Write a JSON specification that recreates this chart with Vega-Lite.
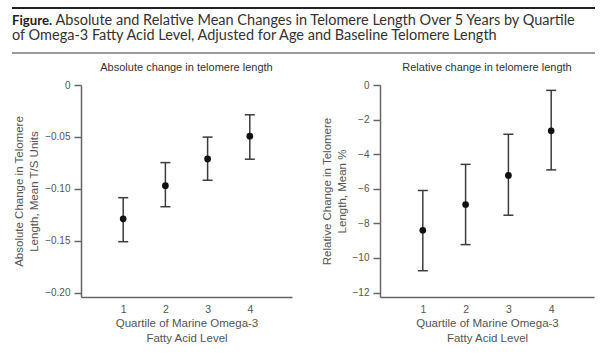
{
  "$schema": "https://vega.github.io/schema/vega-lite/v6.json",
  "background": "white",
  "padding": {"left": 11, "top": 7, "right": 5, "bottom": 5},
  "config": {"view": {"stroke": null}, "font": "Liberation Sans", "axis": {"labelOverlap": false, "labelBound": false}},
  "spacing": 8,
  "vconcat": [
    {
      "width": 583,
      "height": 45,
      "data": {"values": [{}]},
      "title": {
        "text": "Figure.",
        "subtitle": ["\u200b\u2003\u2003\u2003\u2003Absolute and Relative Mean Changes in Telomere Length Over 5 Years by Quartile", "of Omega-3 Fatty Acid Level, Adjusted for Age and Baseline Telomere Length"],
        "anchor": "start",
        "frame": "group",
        "font": "Lato",
        "fontSize": 13.2,
        "fontWeight": "bold",
        "color": "#222222",
        "subtitleFont": "Lato",
        "subtitleFontSize": 14.5,
        "subtitleColor": "#333333",
        "subtitleLineHeight": 14.5,
        "subtitlePadding": -14,
        "offset": -37
      },
      "layer": [
        {
          "mark": {"type": "rule", "color": "#222222", "strokeWidth": 2},
          "encoding": {"y": {"datum": 1, "type": "quantitative", "scale": {"domain": [0, 1]}, "axis": null}}
        },
        {
          "mark": {"type": "rule", "color": "#7a7a7a", "strokeWidth": 1.5},
          "encoding": {"y": {"datum": 0, "type": "quantitative", "axis": null}}
        }
      ]
    },
    {
      "spacing": 0,
      "hconcat": [
        {
          "width": 1,
          "height": 1,
          "data": {"values": []},
          "mark": "point"
        },
        {
          "spacing": 29,
          "hconcat": [
            {
              "width": 211,
              "height": 212,
              "title": {"text": "Absolute change in telomere length", "fontSize": 11, "fontWeight": "normal", "color": "#333333", "offset": 7, "anchor": "middle"},
              "data": {"values": [
                {"quartile": 1, "mean": -0.129, "lower": -0.151, "upper": -0.1086},
                {"quartile": 2, "mean": -0.097, "lower": -0.1173, "upper": -0.0748},
                {"quartile": 3, "mean": -0.0712, "lower": -0.0918, "upper": -0.0502},
                {"quartile": 4, "mean": -0.0493, "lower": -0.0715, "upper": -0.0287}
              ]},
              "encoding": {
                "x": {"field": "quartile", "type": "quantitative", "scale": {"domain": [0, 5], "nice": false, "zero": false},
                  "axis": {"title": ["Quartile of Marine Omega-3", "Fatty Acid Level"], "values": [1, 2, 3, 4], "ticks": false, "grid": false, "labelPadding": 7, "domainColor": "#666666", "domainWidth": 1.5, "labelFontSize": 10.5, "labelColor": "#555555", "titleFontSize": 11.5, "titleColor": "#555555", "titleFontWeight": "normal", "titleLineHeight": 15, "titlePadding": 3}}
              },
              "layer": [
                {
                  "mark": {"type": "rule", "color": "#3c3c3c", "strokeWidth": 1.5},
                  "encoding": {
                    "y": {"field": "lower", "type": "quantitative", "scale": {"domain": [-0.2043, 0], "nice": false, "zero": false},
                      "axis": {"title": ["Absolute Change in Telomere", "Length, Mean T/S Units"], "values": [0, -0.05, -0.1, -0.15, -0.2], "labelExpr": "datum.value == 0 ? '0' : format(datum.value, '.2f')", "grid": false, "tickSize": 7, "tickColor": "#666666", "tickWidth": 1.5, "domainColor": "#666666", "domainWidth": 1.5, "labelPadding": 4, "labelFontSize": 10, "labelColor": "#555555", "titleFontSize": 11.5, "titleColor": "#555555", "titleFontWeight": "normal", "titleLineHeight": 15, "titlePadding": 5}},
                    "y2": {"field": "upper"}
                  }
                },
                {
                  "mark": {"type": "tick", "orient": "horizontal", "color": "#3c3c3c", "size": 10, "thickness": 1.5, "opacity": 1},
                  "encoding": {"y": {"field": "lower", "type": "quantitative", "scale": {"domain": [-0.2043, 0], "nice": false, "zero": false},
                      "axis": {"title": ["Absolute Change in Telomere", "Length, Mean T/S Units"], "values": [0, -0.05, -0.1, -0.15, -0.2], "labelExpr": "datum.value == 0 ? '0' : format(datum.value, '.2f')", "grid": false, "tickSize": 7, "tickColor": "#666666", "tickWidth": 1.5, "domainColor": "#666666", "domainWidth": 1.5, "labelPadding": 4, "labelFontSize": 10, "labelColor": "#555555", "titleFontSize": 11.5, "titleColor": "#555555", "titleFontWeight": "normal", "titleLineHeight": 15, "titlePadding": 5}}}
                },
                {
                  "mark": {"type": "tick", "orient": "horizontal", "color": "#3c3c3c", "size": 10, "thickness": 1.5, "opacity": 1},
                  "encoding": {"y": {"field": "upper", "type": "quantitative", "scale": {"domain": [-0.2043, 0], "nice": false, "zero": false},
                      "axis": {"title": ["Absolute Change in Telomere", "Length, Mean T/S Units"], "values": [0, -0.05, -0.1, -0.15, -0.2], "labelExpr": "datum.value == 0 ? '0' : format(datum.value, '.2f')", "grid": false, "tickSize": 7, "tickColor": "#666666", "tickWidth": 1.5, "domainColor": "#666666", "domainWidth": 1.5, "labelPadding": 4, "labelFontSize": 10, "labelColor": "#555555", "titleFontSize": 11.5, "titleColor": "#555555", "titleFontWeight": "normal", "titleLineHeight": 15, "titlePadding": 5}}}
                },
                {
                  "mark": {"type": "point", "filled": true, "color": "#111111", "opacity": 1, "size": 45},
                  "encoding": {"y": {"field": "mean", "type": "quantitative", "scale": {"domain": [-0.2043, 0], "nice": false, "zero": false},
                      "axis": {"title": ["Absolute Change in Telomere", "Length, Mean T/S Units"], "values": [0, -0.05, -0.1, -0.15, -0.2], "labelExpr": "datum.value == 0 ? '0' : format(datum.value, '.2f')", "grid": false, "tickSize": 7, "tickColor": "#666666", "tickWidth": 1.5, "domainColor": "#666666", "domainWidth": 1.5, "labelPadding": 4, "labelFontSize": 10, "labelColor": "#555555", "titleFontSize": 11.5, "titleColor": "#555555", "titleFontWeight": "normal", "titleLineHeight": 15, "titlePadding": 5}}}
                },
                {
                  "mark": {"type": "rule", "color": "#666666", "strokeWidth": 1.5},
                  "encoding": {"y": {"datum": 0, "type": "quantitative", "scale": {"domain": [-0.2043, 0], "nice": false, "zero": false},
                      "axis": {"title": ["Absolute Change in Telomere", "Length, Mean T/S Units"], "values": [0, -0.05, -0.1, -0.15, -0.2], "labelExpr": "datum.value == 0 ? '0' : format(datum.value, '.2f')", "grid": false, "tickSize": 7, "tickColor": "#666666", "tickWidth": 1.5, "domainColor": "#666666", "domainWidth": 1.5, "labelPadding": 4, "labelFontSize": 10, "labelColor": "#555555", "titleFontSize": 11.5, "titleColor": "#555555", "titleFontWeight": "normal", "titleLineHeight": 15, "titlePadding": 5}}}
                }
              ]
            },
            {
              "width": 214,
              "height": 212,
              "title": {"text": "Relative change in telomere length", "fontSize": 11, "fontWeight": "normal", "color": "#333333", "offset": 7, "anchor": "middle"},
              "data": {"values": [
                {"quartile": 1, "mean": -8.4, "lower": -10.74, "upper": -6.1},
                {"quartile": 2, "mean": -6.91, "lower": -9.23, "upper": -4.59},
                {"quartile": 3, "mean": -5.23, "lower": -7.53, "upper": -2.85},
                {"quartile": 4, "mean": -2.65, "lower": -4.91, "upper": -0.31}
              ]},
              "encoding": {
                "x": {"field": "quartile", "type": "quantitative", "scale": {"domain": [0, 5], "nice": false, "zero": false},
                  "axis": {"title": ["Quartile of Marine Omega-3", "Fatty Acid Level"], "values": [1, 2, 3, 4], "ticks": false, "grid": false, "labelPadding": 7, "domainColor": "#666666", "domainWidth": 1.5, "labelFontSize": 10.5, "labelColor": "#555555", "titleFontSize": 11.5, "titleColor": "#555555", "titleFontWeight": "normal", "titleLineHeight": 15, "titlePadding": 3}}
              },
              "layer": [
                {
                  "mark": {"type": "rule", "color": "#3c3c3c", "strokeWidth": 1.5},
                  "encoding": {
                    "y": {"field": "lower", "type": "quantitative", "scale": {"domain": [-12.26, 0], "nice": false, "zero": false},
                      "axis": {"title": ["Relative Change in Telomere", "Length, Mean %"], "values": [0, -2, -4, -6, -8, -10, -12], "labelExpr": "format(datum.value, 'd')", "grid": false, "tickSize": 7, "tickColor": "#666666", "tickWidth": 1.5, "domainColor": "#666666", "domainWidth": 1.5, "labelPadding": 4, "labelFontSize": 10, "labelColor": "#555555", "titleFontSize": 11.5, "titleColor": "#555555", "titleFontWeight": "normal", "titleLineHeight": 15, "titlePadding": 5}},
                    "y2": {"field": "upper"}
                  }
                },
                {
                  "mark": {"type": "tick", "orient": "horizontal", "color": "#3c3c3c", "size": 10, "thickness": 1.5, "opacity": 1},
                  "encoding": {"y": {"field": "lower", "type": "quantitative", "scale": {"domain": [-12.26, 0], "nice": false, "zero": false},
                      "axis": {"title": ["Relative Change in Telomere", "Length, Mean %"], "values": [0, -2, -4, -6, -8, -10, -12], "labelExpr": "format(datum.value, 'd')", "grid": false, "tickSize": 7, "tickColor": "#666666", "tickWidth": 1.5, "domainColor": "#666666", "domainWidth": 1.5, "labelPadding": 4, "labelFontSize": 10, "labelColor": "#555555", "titleFontSize": 11.5, "titleColor": "#555555", "titleFontWeight": "normal", "titleLineHeight": 15, "titlePadding": 5}}}
                },
                {
                  "mark": {"type": "tick", "orient": "horizontal", "color": "#3c3c3c", "size": 10, "thickness": 1.5, "opacity": 1},
                  "encoding": {"y": {"field": "upper", "type": "quantitative", "scale": {"domain": [-12.26, 0], "nice": false, "zero": false},
                      "axis": {"title": ["Relative Change in Telomere", "Length, Mean %"], "values": [0, -2, -4, -6, -8, -10, -12], "labelExpr": "format(datum.value, 'd')", "grid": false, "tickSize": 7, "tickColor": "#666666", "tickWidth": 1.5, "domainColor": "#666666", "domainWidth": 1.5, "labelPadding": 4, "labelFontSize": 10, "labelColor": "#555555", "titleFontSize": 11.5, "titleColor": "#555555", "titleFontWeight": "normal", "titleLineHeight": 15, "titlePadding": 5}}}
                },
                {
                  "mark": {"type": "point", "filled": true, "color": "#111111", "opacity": 1, "size": 45},
                  "encoding": {"y": {"field": "mean", "type": "quantitative", "scale": {"domain": [-12.26, 0], "nice": false, "zero": false},
                      "axis": {"title": ["Relative Change in Telomere", "Length, Mean %"], "values": [0, -2, -4, -6, -8, -10, -12], "labelExpr": "format(datum.value, 'd')", "grid": false, "tickSize": 7, "tickColor": "#666666", "tickWidth": 1.5, "domainColor": "#666666", "domainWidth": 1.5, "labelPadding": 4, "labelFontSize": 10, "labelColor": "#555555", "titleFontSize": 11.5, "titleColor": "#555555", "titleFontWeight": "normal", "titleLineHeight": 15, "titlePadding": 5}}}
                },
                {
                  "mark": {"type": "rule", "color": "#666666", "strokeWidth": 1.5},
                  "encoding": {"y": {"datum": 0, "type": "quantitative", "scale": {"domain": [-12.26, 0], "nice": false, "zero": false},
                      "axis": {"title": ["Relative Change in Telomere", "Length, Mean %"], "values": [0, -2, -4, -6, -8, -10, -12], "labelExpr": "format(datum.value, 'd')", "grid": false, "tickSize": 7, "tickColor": "#666666", "tickWidth": 1.5, "domainColor": "#666666", "domainWidth": 1.5, "labelPadding": 4, "labelFontSize": 10, "labelColor": "#555555", "titleFontSize": 11.5, "titleColor": "#555555", "titleFontWeight": "normal", "titleLineHeight": 15, "titlePadding": 5}}}
                }
              ]
            }
          ]
        }
      ]
    }
  ]
}
